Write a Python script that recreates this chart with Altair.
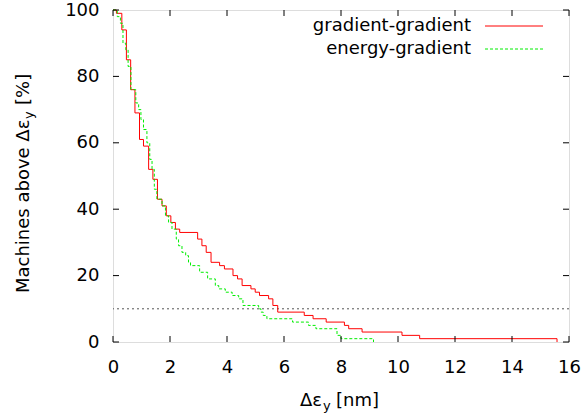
import altair as alt
import pandas as pd

series_names = ["gradient-gradient", "energy-gradient"]

gg_x = [0, 0.12, 0.31, 0.47, 0.62, 0.77, 0.93, 1.07, 1.25, 1.40, 1.56, 1.72, 1.87, 2.03,
        2.19, 2.34, 2.97, 3.12, 3.27, 3.44, 3.74, 3.91, 4.21, 4.37, 4.53, 4.84, 4.99, 5.14,
        5.46, 5.61, 5.78, 6.71, 7.02, 7.48, 8.12, 8.27, 8.74, 10.14, 10.76, 15.58]
gg_y = [100, 99, 94, 85, 76, 69, 61, 59, 52, 49, 43, 41, 38, 36,
        34, 33, 31, 29, 27, 24, 23, 22, 20, 19, 17, 16, 15, 14,
        13, 11, 9, 8, 7, 6, 5, 4, 3, 2, 1, 0]

eg_x = [0, 0.15, 0.26, 0.35, 0.45, 0.53, 0.63, 0.80, 0.90, 0.98, 1.07, 1.19, 1.29, 1.37,
        1.45, 1.54, 1.72, 1.84, 1.95, 2.07, 2.22, 2.30, 2.42, 2.55, 2.65, 2.72, 3.04, 3.32,
        3.59, 3.71, 3.94, 4.18, 4.41, 4.56, 5.11, 5.19, 5.27, 5.40, 6.30, 6.86, 7.12, 7.86,
        8.00, 9.14]
eg_y = [100, 98, 96, 90, 88, 83, 76, 72, 70, 67, 64, 60, 55, 52,
        46, 43, 41, 38, 36, 34, 31, 29, 27, 26, 24, 23, 21, 19,
        17, 16, 15, 14, 13, 11, 10, 9, 8, 7, 6, 5, 4, 2,
        1, 0]

threshold = [10]
x_ticks = [0, 2, 4, 6, 8, 10, 12, 14, 16]
y_ticks = [0, 20, 40, 60, 80, 100]

W, H = 456, 332
FONT = "DejaVu Sans"
FS = 18

df_gg = pd.DataFrame({"x": gg_x, "y": gg_y})
df_eg = pd.DataFrame({"x": eg_x, "y": eg_y})
df_thr = pd.DataFrame({"y": threshold})
df_xt = pd.DataFrame({"x": x_ticks})
df_yt = pd.DataFrame({"y": y_ticks})
one = pd.DataFrame({"k": [0]})

xs = alt.Scale(domain=[0, 16], nice=False, zero=False)
ys = alt.Scale(domain=[0, 100], nice=False, zero=False)
xaxis = alt.Axis(values=x_ticks, ticks=False, domain=False, grid=False, labelFont=FONT,
                 labelFontSize=FS, labelPadding=16, labelColor="black", title=None,
                 format="d", labelFlush=False)
yaxis = alt.Axis(values=y_ticks, ticks=False, domain=False, grid=False, labelFont=FONT,
                 labelFontSize=FS, labelPadding=14, labelColor="black", title=None,
                 format="d", labelFlush=False)
X = alt.X("x:Q", scale=xs, axis=xaxis)
Y = alt.Y("y:Q", scale=ys, axis=yaxis)

red = alt.Chart(df_gg).mark_line(interpolate="step-after", color="#ff0000",
                                 strokeWidth=1).encode(x=X, y=Y)
green = alt.Chart(df_eg).mark_line(interpolate="step-after", color="#00ee00",
                                   strokeWidth=1, strokeDash=[3, 2]).encode(x=X, y=Y)
thr = alt.Chart(df_thr).mark_rule(color="#555555", strokeWidth=1,
                                  strokeDash=[2, 3]).encode(y=Y)

TL = 6
xt_bot = alt.Chart(df_xt).mark_rule(color="black").encode(x=X, y=alt.value(H), y2=alt.value(H - TL))
xt_top = alt.Chart(df_xt).mark_rule(color="black").encode(x=X, y=alt.value(0), y2=alt.value(TL))
yt_left = alt.Chart(df_yt).mark_rule(color="black").encode(y=Y, x=alt.value(0), x2=alt.value(TL))
yt_right = alt.Chart(df_yt).mark_rule(color="black").encode(y=Y, x=alt.value(W), x2=alt.value(W - TL))

# legend (gnuplot style: label left, sample right)
def leg_text(label, yv):
    return alt.Chart(one).mark_text(align="right", baseline="middle", font=FONT,
                                    fontSize=FS, color="black").encode(
        x=alt.value(358), y=alt.value(yv), text=alt.value(label))

leg1 = leg_text(series_names[0], 16)
leg2 = leg_text(series_names[1], 39)
leg1_line = alt.Chart(one).mark_rule(color="#ff0000", strokeWidth=1).encode(
    x=alt.value(372), x2=alt.value(430), y=alt.value(16))
leg2_line = alt.Chart(one).mark_rule(color="#00ee00", strokeWidth=1, strokeDash=[3, 2]).encode(
    x=alt.value(372), x2=alt.value(430), y=alt.value(39))

# axis titles with subscript
def txt(s, x, y, align, size=FS, dx=0, dy=0, angle=0):
    kw = dict(align=align, baseline="alphabetic", font=FONT, fontSize=size,
              color="black", dx=dx, dy=dy)
    if angle:
        kw["angle"] = angle
    return alt.Chart(one).mark_text(**kw).encode(
        x=alt.value(x), y=alt.value(y), text=alt.value(s))

XT0 = 209
xt1 = txt("Δε", XT0, 396, "right")
xt2 = txt("y", XT0 + 1, 396, "left", size=13, dy=4)
xt3 = txt("[nm]", XT0 + 14, 396, "left")

YX, YY = -84, 283
yt1 = txt("Machines above Δε", YX, YY, "left", angle=270)
yt2 = txt("y", YX, YY, "left", size=13, dx=174, dy=4, angle=270)
yt3 = txt("[%]", YX, YY, "left", dx=188, angle=270)

chart = alt.layer(
    thr, red, green, xt_bot, xt_top, yt_left, yt_right,
    leg1, leg2, leg1_line, leg2_line, xt1, xt2, xt3, yt1, yt2, yt3
).properties(
    width=W, height=H,
    padding={"left": 113, "top": 10, "right": 15, "bottom": 75},
    autosize=alt.AutoSizeParams(type="none"),
).configure_view(stroke="black", strokeWidth=1).configure(background="white")

chart.save("out.html", embed_options={"renderer": "svg", "actions": False})
